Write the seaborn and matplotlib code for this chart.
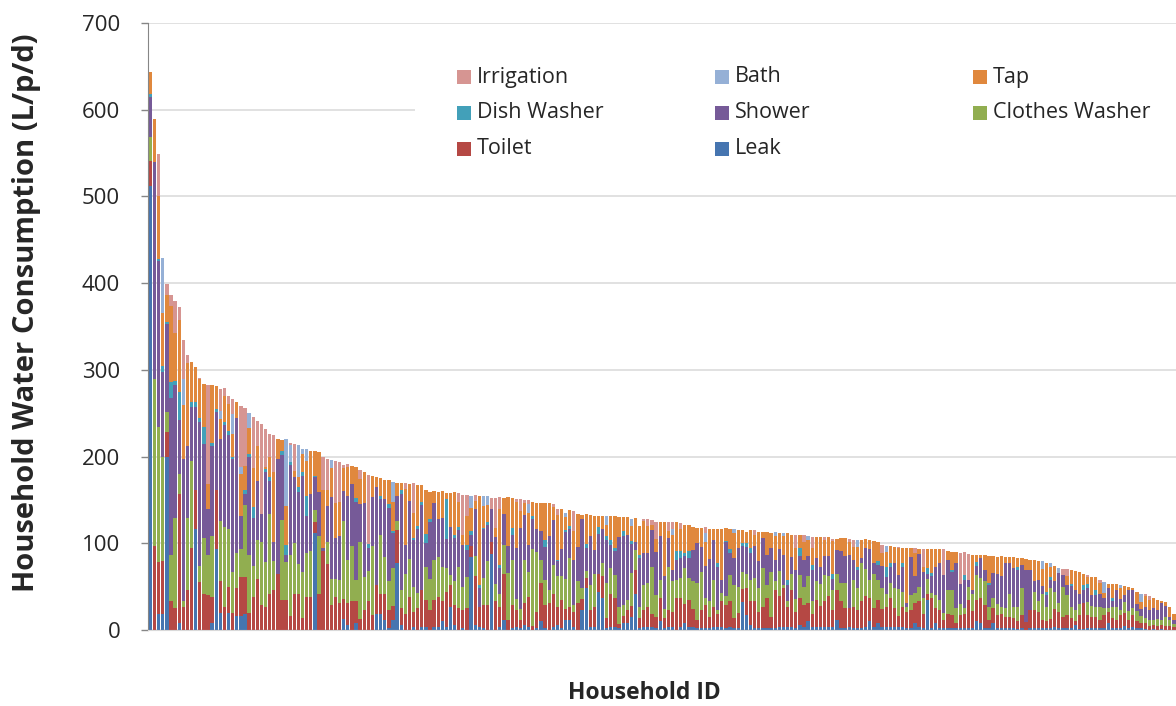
import matplotlib
matplotlib.use("Agg")
import matplotlib.pyplot as plt
from matplotlib.patches import Rectangle
import numpy as np
import pandas as pd
import seaborn as sns

# per-household use (L/p/d), households sorted by total
leak = [
    512, 0, 18, 18, 200, 0, 0, 8, 0, 0,
    0, 116, 0, 0, 0, 8, 93, 20, 0, 20,
    0, 16, 16, 18, 0, 0, 0, 0, 0, 0,
    0, 0, 0, 0, 0, 0, 0, 0, 0, 0,
    112, 0, 0, 0, 0, 0, 0, 13, 6, 0,
    8, 0, 0, 0, 0, 19, 19, 11, 2, 11,
    77, 6, 0, 0, 4, 0, 4, 4, 0, 4,
    4, 10, 4, 27, 6, 0, 2, 0, 84, 6,
    4, 2, 0, 88, 0, 4, 11, 0, 2, 4,
    2, 6, 3, 0, 2, 10, 2, 0, 4, 6,
    2, 12, 12, 4, 0, 23, 48, 4, 4, 44,
    37, 2, 4, 4, 2, 8, 8, 15, 42, 2,
    4, 4, 4, 2, 10, 2, 4, 4, 0, 4,
    8, 4, 4, 2, 2, 2, 2, 4, 4, 4,
    2, 4, 2, 2, 32, 17, 6, 2, 2, 2,
    2, 2, 2, 4, 4, 4, 4, 2, 6, 4,
    10, 4, 4, 3, 4, 4, 4, 12, 2, 2,
    3, 2, 2, 2, 4, 10, 4, 8, 4, 4,
    4, 4, 4, 4, 2, 2, 8, 4, 2, 35,
    2, 8, 2, 2, 2, 2, 2, 2, 2, 2,
    2, 10, 8, 2, 2, 8, 2, 2, 2, 2,
    2, 1, 2, 0, 2, 2, 2, 2, 2, 2,
    4, 2, 2, 2, 2, 6, 1, 1, 2, 2,
    2, 2, 2, 8, 2, 2, 2, 5, 2, 4,
    2, 2, 1, 0, 1, 0, 1, 0, 0, 0,
]
toilet = [
    29, 97, 60, 62, 28, 33, 25, 149, 27, 46,
    95, 45, 55, 42, 40, 30, 68, 36, 27, 30,
    20, 32, 45, 43, 20, 38, 59, 29, 27, 42,
    46, 65, 35, 35, 16, 42, 42, 14, 38, 38,
    13, 42, 91, 76, 29, 38, 31, 23, 25, 34,
    25, 13, 23, 34, 17, 33, 23, 31, 21, 17,
    38, 19, 19, 38, 17, 25, 42, 31, 23, 31,
    34, 23, 40, 25, 23, 25, 21, 25, 13, 56,
    23, 27, 29, 13, 34, 23, 54, 12, 27, 19,
    10, 25, 35, 5, 19, 44, 27, 31, 38, 21,
    33, 12, 15, 17, 31, 13, 12, 19, 23, 21,
    25, 12, 38, 33, 5, 8, 15, 13, 27, 12,
    19, 23, 15, 13, 27, 12, 19, 17, 37, 33,
    22, 31, 20, 10, 21, 27, 13, 23, 15, 29,
    27, 29, 12, 18, 15, 31, 27, 31, 19, 25,
    35, 13, 44, 35, 44, 23, 42, 19, 31, 25,
    21, 15, 31, 25, 29, 35, 19, 34, 31, 23,
    22, 25, 21, 31, 35, 27, 21, 27, 20, 23,
    33, 21, 12, 23, 19, 21, 23, 29, 17, 7,
    35, 17, 21, 10, 17, 15, 6, 15, 17, 33,
    20, 25, 29, 27, 10, 17, 15, 17, 13, 13,
    12, 9, 15, 9, 21, 21, 19, 10, 8, 11,
    20, 19, 13, 15, 12, 4, 16, 30, 15, 13,
    13, 10, 15, 13, 12, 10, 15, 15, 10, 13,
    8, 6, 7, 5, 5, 5, 5, 5, 5, 3,
]
clothes_washer = [
    27, 193, 156, 119, 23, 53, 104, 23, 6, 83,
    100, 0, 19, 64, 47, 70, 0, 70, 92, 66,
    47, 41, 32, 83, 66, 36, 45, 73, 51, 92,
    34, 0, 92, 43, 70, 58, 34, 53, 51, 53,
    13, 66, 0, 26, 30, 21, 27, 90, 50, 63,
    25, 88, 38, 34, 80, 0, 67, 42, 34, 44,
    11, 21, 46, 44, 29, 18, 0, 38, 36, 46,
    46, 40, 27, 11, 27, 48, 27, 36, 0, 23,
    0, 31, 50, 0, 19, 15, 33, 54, 52, 13,
    12, 50, 29, 88, 69, 27, 29, 15, 33, 35,
    27, 35, 56, 8, 25, 13, 8, 29, 38, 0,
    15, 40, 29, 27, 19, 13, 12, 38, 23, 13,
    29, 27, 54, 25, 21, 10, 50, 35, 21, 23,
    42, 25, 33, 42, 44, 8, 19, 31, 4, 10,
    10, 31, 38, 30, 20, 17, 25, 27, 27, 44,
    15, 52, 10, 29, 4, 6, 19, 15, 27, 21,
    31, 15, 21, 25, 31, 23, 23, 19, 21, 29,
    0, 31, 25, 44, 31, 21, 40, 23, 25, 15,
    17, 23, 31, 17, 6, 17, 12, 17, 18, 17,
    6, 15, 12, 8, 27, 29, 17, 13, 6, 15,
    20, 29, 23, 27, 15, 12, 13, 8, 10, 27,
    12, 17, 31, 0, 0, 21, 12, 29, 17, 35,
    20, 10, 35, 23, 12, 13, 13, 0, 15, 13,
    12, 15, 8, 4, 13, 15, 6, 12, 10, 8,
    12, 8, 6, 6, 6, 8, 6, 10, 6, 4,
]
shower = [
    47, 250, 192, 98, 102, 182, 154, 62, 164, 83,
    62, 96, 166, 109, 53, 104, 90, 94, 117, 109,
    130, 156, 38, 13, 113, 55, 68, 32, 104, 38,
    21, 132, 75, 9, 104, 77, 83, 111, 43, 66,
    38, 51, 4, 41, 94, 47, 50, 34, 73, 71,
    90, 44, 86, 27, 56, 113, 42, 67, 84, 40,
    29, 111, 33, 67, 54, 73, 98, 27, 65, 65,
    44, 56, 34, 56, 50, 42, 48, 31, 13, 54,
    21, 56, 42, 38, 54, 29, 36, 31, 29, 58,
    94, 52, 31, 35, 27, 33, 38, 62, 52, 17,
    31, 54, 33, 52, 40, 79, 27, 56, 27, 46,
    40, 50, 27, 27, 81, 79, 75, 33, 10, 56,
    37, 35, 42, 50, 50, 38, 33, 13, 23, 23,
    13, 23, 35, 46, 29, 37, 48, 46, 50, 15,
    62, 25, 31, 45, 30, 31, 31, 37, 31, 35,
    35, 27, 25, 25, 35, 19, 19, 33, 21, 31,
    23, 35, 27, 20, 21, 23, 13, 27, 37, 31,
    62, 23, 21, 6, 25, 35, 12, 17, 25, 19,
    19, 29, 17, 29, 4, 44, 19, 38, 30, 6,
    19, 33, 42, 44, 35, 21, 52, 23, 33, 8,
    4, 10, 23, 13, 25, 29, 35, 35, 52, 35,
    45, 42, 27, 60, 46, 12, 25, 10, 13, 10,
    12, 35, 13, 12, 25, 23, 12, 15, 17, 12,
    13, 15, 12, 23, 6, 19, 13, 8, 24, 21,
    8, 8, 12, 12, 13, 10, 19, 13, 4, 4,
]
dish_washer = [
    3, 0, 2, 8, 2, 18, 4, 32, 0, 0,
    6, 6, 4, 19, 0, 4, 4, 0, 4, 4,
    3, 0, 0, 4, 4, 13, 0, 0, 4, 4,
    0, 0, 4, 11, 4, 0, 6, 4, 23, 0,
    2, 0, 0, 0, 0, 0, 0, 0, 0, 0,
    4, 0, 0, 4, 0, 0, 4, 0, 4, 2,
    0, 4, 0, 0, 2, 4, 4, 11, 4, 0,
    0, 0, 46, 0, 4, 4, 0, 6, 4, 0,
    4, 2, 4, 0, 0, 4, 0, 0, 8, 0,
    0, 0, 0, 3, 0, 0, 8, 0, 0, 2,
    0, 2, 4, 0, 0, 0, 4, 0, 0, 8,
    0, 4, 6, 4, 0, 6, 0, 4, 0, 4,
    0, 0, 0, 0, 0, 0, 0, 0, 10, 8,
    4, 8, 0, 0, 0, 0, 0, 0, 4, 0,
    2, 4, 0, 0, 3, 4, 6, 0, 0, 0,
    0, 0, 0, 0, 0, 6, 0, 0, 10, 0,
    0, 6, 0, 0, 0, 0, 6, 0, 0, 0,
    0, 0, 4, 0, 0, 0, 0, 4, 0, 12,
    4, 0, 0, 4, 0, 0, 0, 0, 0, 6,
    4, 0, 0, 0, 0, 2, 0, 0, 6, 0,
    0, 4, 0, 0, 2, 0, 0, 0, 0, 0,
    0, 4, 0, 0, 0, 0, 0, 0, 4, 3,
    0, 0, 0, 0, 2, 0, 0, 6, 4, 0,
    6, 0, 0, 0, 4, 0, 0, 0, 0, 0,
    0, 0, 0, 0, 0, 0, 0, 0, 0, 0,
]
tap = [
    25, 49, 73, 60, 31, 88, 55, 83, 62, 96,
    46, 40, 45, 50, 28, 66, 26, 23, 30, 32,
    26, 18, 49, 28, 30, 45, 40, 0, 2, 23,
    81, 23, 13, 45, 0, 6, 11, 21, 40, 50,
    28, 46, 66, 19, 34, 41, 40, 27, 34, 21,
    36, 29, 35, 0, 25, 11, 20, 22, 28, 34,
    15, 9, 65, 19, 29, 47, 19, 51, 31, 14,
    31, 31, 7, 39, 49, 29, 11, 33, 27, 10,
    103, 25, 19, 0, 11, 65, 18, 56, 34, 54,
    19, 13, 37, 17, 30, 33, 42, 38, 15, 52,
    46, 15, 18, 33, 38, 5, 35, 25, 40, 13,
    14, 13, 27, 37, 23, 16, 20, 17, 27, 33,
    37, 31, 6, 15, 17, 63, 8, 40, 33, 25,
    32, 30, 27, 18, 22, 27, 35, 13, 40, 59,
    15, 24, 29, 20, 15, 13, 20, 12, 34, 7,
    26, 18, 27, 19, 21, 54, 25, 25, 14, 21,
    19, 19, 24, 34, 19, 22, 38, 13, 15, 21,
    15, 15, 23, 21, 10, 11, 26, 22, 15, 17,
    20, 19, 30, 18, 64, 11, 27, 5, 6, 22,
    27, 20, 16, 0, 10, 21, 13, 0, 0, 0,
    41, 8, 4, 17, 31, 19, 19, 23, 7, 7,
    13, 10, 8, 13, 12, 25, 22, 19, 33, 12,
    18, 0, 0, 10, 16, 22, 25, 13, 8, 21,
    15, 12, 6, 5, 16, 7, 12, 11, 4, 3,
    14, 8, 13, 12, 12, 12, 3, 4, 12, 8,
]
bath = [
    0, 0, 0, 64, 0, 0, 0, 0, 30, 0,
    0, 0, 0, 0, 0, 0, 0, 9, 0, 0,
    23, 0, 8, 0, 17, 0, 0, 0, 0, 0,
    0, 0, 0, 77, 19, 0, 37, 6, 14, 0,
    0, 0, 0, 0, 9, 0, 0, 0, 0, 0,
    0, 0, 0, 0, 0, 0, 0, 0, 0, 23,
    0, 0, 0, 0, 0, 0, 0, 0, 0, 0,
    0, 0, 0, 0, 0, 0, 0, 0, 13, 0,
    0, 12, 10, 0, 0, 0, 0, 0, 0, 0,
    0, 0, 10, 0, 0, 0, 0, 0, 0, 0,
    0, 5, 0, 0, 0, 0, 0, 0, 0, 0,
    0, 10, 0, 0, 0, 0, 0, 8, 0, 0,
    0, 0, 0, 0, 0, 0, 0, 8, 0, 0,
    0, 0, 0, 0, 0, 11, 0, 0, 0, 0,
    0, 0, 5, 0, 0, 0, 0, 0, 0, 0,
    0, 0, 5, 0, 4, 0, 0, 0, 0, 0,
    4, 0, 0, 0, 0, 0, 0, 0, 0, 0,
    0, 0, 8, 0, 0, 0, 0, 0, 0, 7,
    0, 0, 0, 0, 0, 0, 0, 0, 0, 0,
    0, 0, 0, 0, 0, 0, 0, 0, 0, 0,
    0, 0, 0, 0, 0, 0, 0, 0, 0, 0,
    0, 0, 0, 0, 0, 0, 0, 10, 0, 4,
    0, 6, 0, 0, 0, 0, 0, 0, 0, 0,
    0, 0, 12, 0, 0, 0, 4, 0, 0, 0,
    0, 10, 0, 0, 0, 0, 0, 0, 0, 0,
]
irrigation = [
    0, 0, 48, 0, 13, 12, 37, 15, 45, 9,
    0, 0, 2, 0, 115, 0, 0, 26, 9, 9,
    17, 0, 70, 67, 0, 59, 29, 104, 44, 27,
    43, 0, 0, 0, 3, 32, 0, 0, 0, 0,
    0, 0, 39, 35, 0, 48, 46, 3, 3, 0,
    0, 10, 0, 80, 0, 0, 0, 0, 0, 0,
    0, 0, 6, 0, 34, 0, 0, 0, 0, 0,
    0, 0, 0, 0, 0, 10, 47, 25, 0, 7,
    0, 0, 0, 13, 34, 13, 0, 0, 0, 3,
    14, 4, 5, 0, 0, 0, 0, 0, 3, 7,
    0, 0, 0, 23, 0, 0, 0, 0, 0, 0,
    0, 0, 0, 0, 0, 0, 0, 0, 0, 0,
    2, 8, 6, 20, 0, 0, 11, 7, 0, 7,
    0, 0, 0, 0, 0, 7, 0, 0, 0, 0,
    0, 0, 0, 0, 0, 0, 0, 6, 0, 0,
    0, 0, 0, 0, 0, 0, 1, 16, 0, 7,
    0, 13, 0, 0, 3, 0, 2, 0, 0, 0,
    3, 8, 0, 0, 0, 0, 0, 0, 9, 0,
    0, 0, 2, 0, 0, 0, 6, 0, 20, 0,
    0, 0, 0, 29, 0, 0, 0, 36, 26, 30,
    0, 0, 0, 0, 0, 0, 0, 0, 0, 0,
    0, 0, 0, 0, 0, 0, 0, 0, 0, 0,
    0, 0, 7, 8, 0, 0, 0, 0, 2, 0,
    0, 4, 0, 0, 0, 0, 0, 0, 0, 0,
    0, 0, 2, 4, 0, 0, 0, 0, 0, 0,
]

# stacking order, bottom to top
uses = ["Leak", "Toilet", "Clothes Washer", "Shower", "Dish Washer", "Tap", "Bath", "Irrigation"]
series = [leak, toilet, clothes_washer, shower, dish_washer, tap, bath, irrigation]
colors = {
    "Irrigation": "#D69592",
    "Bath": "#95B0D6",
    "Tap": "#E0883D",
    "Dish Washer": "#42A0B9",
    "Shower": "#765A98",
    "Clothes Washer": "#91AE50",
    "Toilet": "#B54844",
    "Leak": "#4675B0",
}

df = pd.DataFrame(dict(zip(uses, series)))
df["household"] = np.arange(len(df))
cum = df[uses].cumsum(axis=1)

W, H = 1176, 706
sns.set_style("white")
plt.rcParams["font.family"] = ["Open Sans", "DejaVu Sans"]

fig = plt.figure(figsize=(W / 100, H / 100), dpi=100)
ax = fig.add_axes([148 / W, 76 / H, 1028 / W, 607 / H])

# overlay cumulative bars, tallest first
for use in reversed(uses):
    sns.barplot(x=df["household"], y=cum[use], color=colors[use], saturation=1,
                width=0.8, native_scale=True, errorbar=None, ax=ax,
                linewidth=0, edgecolor="none", zorder=2)

ax.set_xlim(-0.6, 249.5)
ax.set_ylim(0, 700)
ax.set_yticks(range(0, 701, 100))
ax.set_xticks([])
ax.set_axisbelow(True)
ax.grid(axis="y", color="#D9D9D9", linewidth=1.1)
ax.grid(axis="x", visible=False)
for s in ["top", "right"]:
    ax.spines[s].set_visible(False)
ax.spines["left"].set_color("#868686")
ax.spines["bottom"].set_color("#D9D9D9")
ax.tick_params(axis="y", direction="out", length=5, width=1, color="#868686",
               pad=15, labelsize=16, left=True)

ax.set_ylabel("Household Water Consumption (L/p/d)", fontsize=21, fontweight="bold")
ax.yaxis.set_label_coords(-0.104, 0.522)
ax.set_xlabel("Household ID", fontsize=16.5, fontweight="bold")
ax.xaxis.set_label_coords(0.4825, -0.084)

# white box behind legend
ax.add_patch(Rectangle((0.26, 0.755), 0.74, 0.195, transform=ax.transAxes,
                       facecolor="white", edgecolor="none", zorder=1))

# legend laid out in rows like the original
legend_items = [
    ("Irrigation", 0, 0), ("Bath", 1, 0), ("Tap", 2, 0),
    ("Dish Washer", 0, 1), ("Shower", 1, 1), ("Clothes Washer", 2, 1),
    ("Toilet", 0, 2), ("Leak", 1, 2),
]
col_x = [457, 715, 973]
row_y = [77, 113, 149]
for label, c, r in legend_items:
    x, y = col_x[c], row_y[r]
    fig.patches.append(Rectangle((x / W, 1 - (y + 7) / H), 14 / W, 14 / H,
                                 transform=fig.transFigure, facecolor=colors[label],
                                 edgecolor="none", figure=fig))
    fig.text((x + 20) / W, 1 - y / H, label, fontsize=15.5, va="center", ha="left")

fig.savefig("out.png", dpi=100)
